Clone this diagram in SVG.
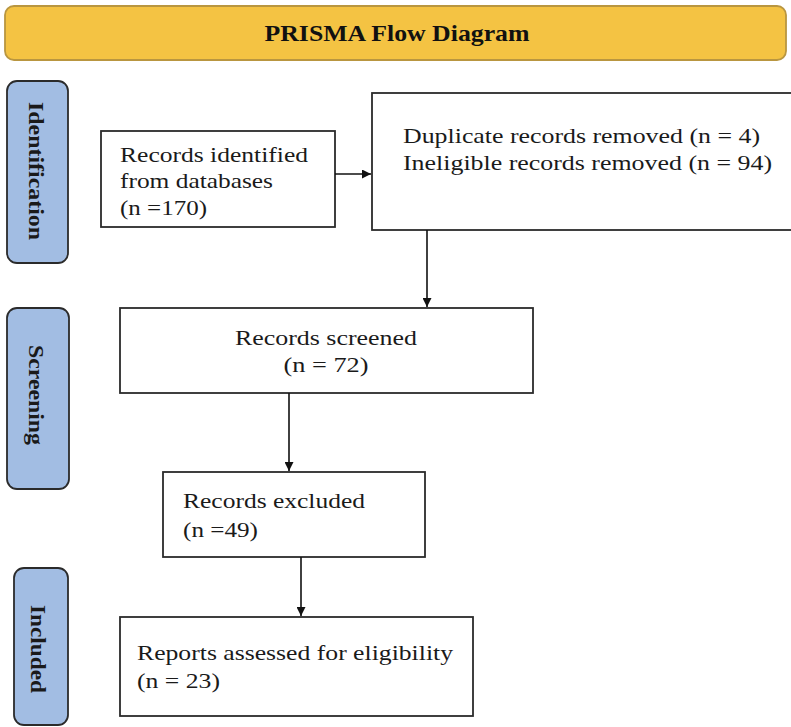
<svg xmlns="http://www.w3.org/2000/svg" width="791" height="727" viewBox="0 0 791 727">
<style>
.box{fill:#fff;stroke:#2b2b2b;stroke-width:1.8}
.lab{fill:#a2bde3;stroke:#2b2b2b;stroke-width:1.8}
.t{font-family:"Liberation Serif","Times New Roman",serif;font-size:22px;fill:#1a1a1a}
.v{font-family:"Liberation Serif","Times New Roman",serif;font-size:22px;font-weight:bold;fill:#1a1a1a}
.c{stroke:#111;stroke-width:1.6;fill:none;marker-end:url(#ah)}
</style>
<defs>
<marker id="ah" viewBox="0 0 10 10" refX="10" refY="5" markerWidth="9" markerHeight="9" markerUnits="userSpaceOnUse" orient="auto">
<path d="M0,0 L10,5 L0,10 z" fill="#111"/>
</marker>
</defs>
<rect width="791" height="727" fill="#fff"/>
<g id="title">
<rect x="5" y="6" width="781" height="54" rx="9" fill="#f4c343" stroke="#b99640" stroke-width="1.8"/>
<text x="397" y="41" text-anchor="middle" font-family="'Liberation Serif','Times New Roman',serif" font-size="24" font-weight="bold" fill="#111" textLength="265" lengthAdjust="spacingAndGlyphs">PRISMA Flow Diagram</text>
</g>
<g id="lab-identification">
<rect class="lab" x="7" y="81" width="61" height="182" rx="10"/>
<text class="v" transform="translate(36,171) rotate(90)" text-anchor="middle" dominant-baseline="central" textLength="138" lengthAdjust="spacingAndGlyphs">Identification</text>
</g>
<g id="lab-screening">
<rect class="lab" x="7" y="308" width="62" height="181" rx="10"/>
<text class="v" transform="translate(36,395) rotate(90)" text-anchor="middle" dominant-baseline="central" textLength="100" lengthAdjust="spacingAndGlyphs">Screening</text>
</g>
<g id="lab-included">
<rect class="lab" x="14" y="568" width="54" height="157" rx="10"/>
<text class="v" transform="translate(38,649) rotate(90)" text-anchor="middle" dominant-baseline="central" textLength="88" lengthAdjust="spacingAndGlyphs">Included</text>
</g>
<g id="n-identified">
<rect class="box" x="101" y="131" width="234" height="96"/>
<text class="t" x="120" y="162" textLength="188" lengthAdjust="spacingAndGlyphs">Records identified</text>
<text class="t" x="120" y="188" textLength="153" lengthAdjust="spacingAndGlyphs">from databases</text>
<text class="t" x="120" y="215" textLength="87" lengthAdjust="spacingAndGlyphs">(n =170)</text>
</g>
<g id="n-removed">
<rect class="box" x="372" y="93" width="430" height="137"/>
<text class="t" x="403" y="143" textLength="357" lengthAdjust="spacingAndGlyphs">Duplicate records removed (n = 4)</text>
<text class="t" x="403" y="170" textLength="369" lengthAdjust="spacingAndGlyphs">Ineligible records removed (n = 94)</text>
</g>
<g id="n-screened">
<rect class="box" x="120" y="308" width="413" height="85"/>
<text class="t" x="326" y="345" text-anchor="middle" textLength="182" lengthAdjust="spacingAndGlyphs">Records screened</text>
<text class="t" x="326" y="372" text-anchor="middle" textLength="85" lengthAdjust="spacingAndGlyphs">(n = 72)</text>
</g>
<g id="n-excluded">
<rect class="box" x="163" y="472" width="262" height="85"/>
<text class="t" x="183" y="508" textLength="182" lengthAdjust="spacingAndGlyphs">Records excluded</text>
<text class="t" x="183" y="537" textLength="75" lengthAdjust="spacingAndGlyphs">(n =49)</text>
</g>
<g id="n-reports">
<rect class="box" x="120" y="617" width="353" height="99"/>
<text class="t" x="137" y="660" textLength="316" lengthAdjust="spacingAndGlyphs">Reports assessed for eligibility</text>
<text class="t" x="137" y="688" textLength="83" lengthAdjust="spacingAndGlyphs">(n = 23)</text>
</g>
<g id="connectors">
<path class="c" d="M335,174 L371,174"/>
<path class="c" d="M427,230 L427,307"/>
<path class="c" d="M289,393 L289,471"/>
<path class="c" d="M301,557 L301,616"/>
</g>
</svg>
